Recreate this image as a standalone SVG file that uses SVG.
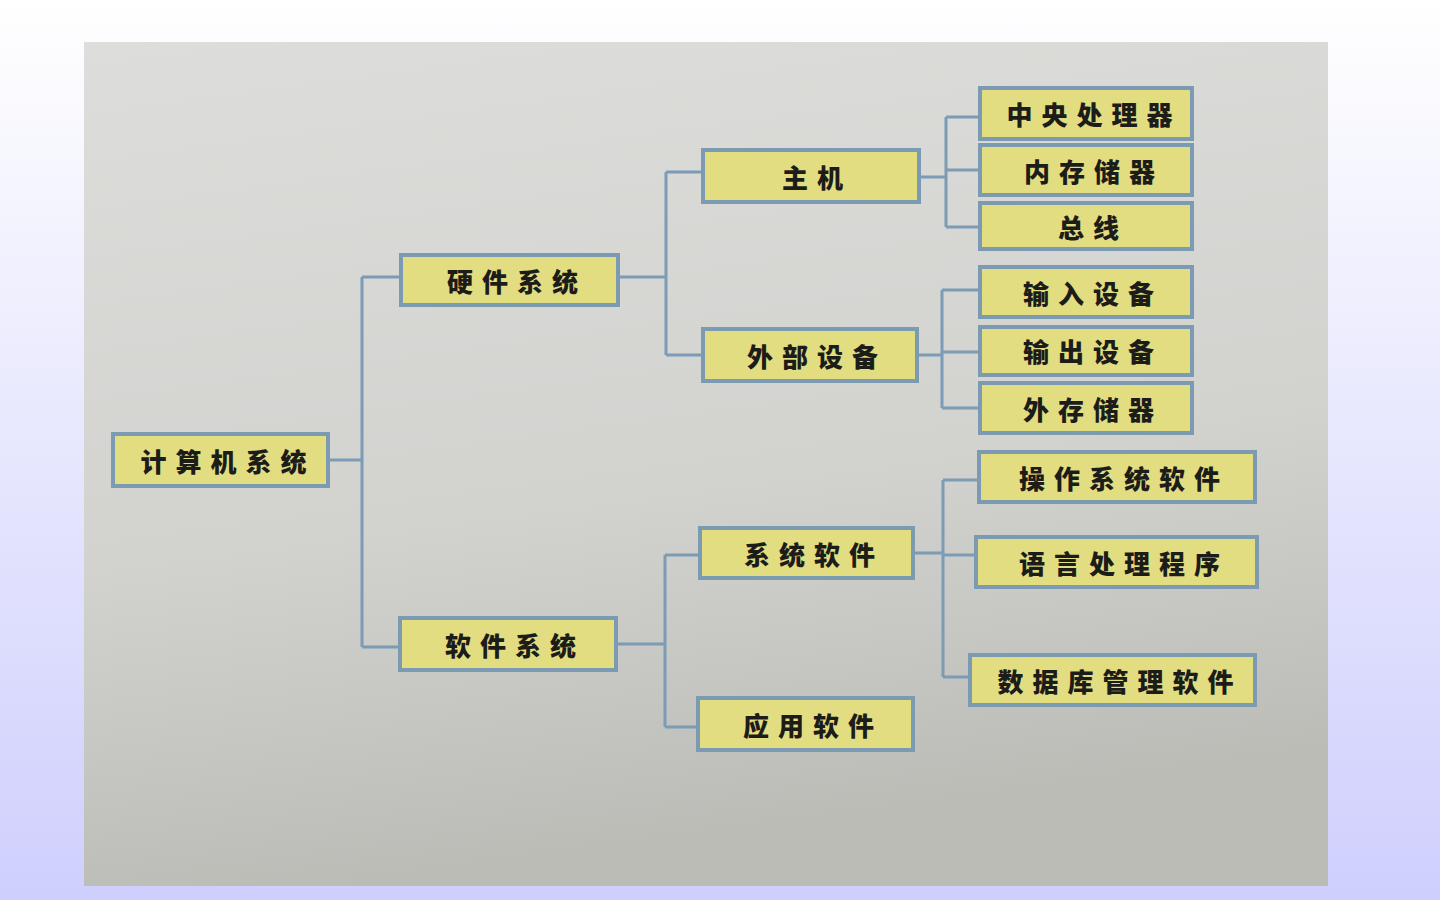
<svg xmlns="http://www.w3.org/2000/svg" width="1440" height="900" viewBox="0 0 1440 900">
  <defs>
    <linearGradient id="bg" x1="0" y1="0" x2="0" y2="1">
      <stop offset="0" stop-color="#ffffff"/>
      <stop offset="1" stop-color="#cfcffd"/>
    </linearGradient>
    <linearGradient id="photo" x1="0" y1="0" x2="0.2" y2="1">
      <stop offset="0" stop-color="#dddddb"/>
      <stop offset="0.6" stop-color="#d2d2cf"/>
      <stop offset="1" stop-color="#bcbcb7"/>
    </linearGradient>
  </defs>
  <style>
    .box { fill: #e3dd82; stroke: #7c9bb2; stroke-width: 4; }
    .lbl { font-family: "Noto Sans CJK SC", "Noto Sans", sans-serif; font-weight: 900; font-size: 26px; letter-spacing: 9px; fill: #1c1c18; text-anchor: middle; dominant-baseline: central; }
    .conn { fill: none; stroke: #7b9cb6; stroke-width: 3; }
  </style>
  <rect width="1440" height="900" fill="url(#bg)"/>
  <rect x="84" y="42" width="1244" height="844" fill="url(#photo)"/>

  <g id="connectors">
    <path class="conn" d="M328 460 H362 M362 277 V647 M362 277 H401 M362 647 H400"/>
    <path class="conn" d="M618 277 H666 M666 172 V355 M666 172 H703 M666 355 H703"/>
    <path class="conn" d="M616 644 H665 M665 555 V727 M665 555 H700 M665 727 H698"/>
    <path class="conn" d="M919 177 H946 M946 117 V227 M946 117 H980 M946 170 H980 M946 227 H980"/>
    <path class="conn" d="M917 355 H942 M942 290 V408 M942 290 H980 M942 352 H980 M942 408 H980"/>
    <path class="conn" d="M913 553 H943 M943 480 V677 M943 480 H979 M943 555 H976 M943 677 H970"/>
  </g>

  <g id="n-root"><rect class="box" x="113" y="434" width="215" height="52"/><text class="lbl" x="228" y="460">计算机系统</text></g>
  <g id="n-hw"><rect class="box" x="401" y="255" width="217" height="50"/><text class="lbl" x="517" y="280">硬件系统</text></g>
  <g id="n-sw"><rect class="box" x="400" y="618" width="216" height="52"/><text class="lbl" x="515" y="644">软件系统</text></g>
  <g id="n-host"><rect class="box" x="703" y="150" width="216" height="52"/><text class="lbl" x="817" y="176">主机</text></g>
  <g id="n-ext"><rect class="box" x="703" y="329" width="214" height="52"/><text class="lbl" x="817" y="355">外部设备</text></g>
  <g id="n-syssw"><rect class="box" x="700" y="528" width="213" height="50"/><text class="lbl" x="814" y="553">系统软件</text></g>
  <g id="n-appsw"><rect class="box" x="698" y="698" width="215" height="52"/><text class="lbl" x="813" y="724">应用软件</text></g>
  <g id="n-cpu"><rect class="box" x="980" y="88" width="212" height="51"/><text class="lbl" x="1094" y="113">中央处理器</text></g>
  <g id="n-mem"><rect class="box" x="980" y="145" width="212" height="50"/><text class="lbl" x="1094" y="170">内存储器</text></g>
  <g id="n-bus"><rect class="box" x="980" y="203" width="212" height="46"/><text class="lbl" x="1093" y="226">总线</text></g>
  <g id="n-in"><rect class="box" x="980" y="267" width="212" height="50"/><text class="lbl" x="1093" y="292">输入设备</text></g>
  <g id="n-out"><rect class="box" x="980" y="327" width="212" height="48"/><text class="lbl" x="1093" y="350">输出设备</text></g>
  <g id="n-stor"><rect class="box" x="980" y="383" width="212" height="50"/><text class="lbl" x="1093" y="408">外存储器</text></g>
  <g id="n-os"><rect class="box" x="979" y="452" width="276" height="50"/><text class="lbl" x="1124" y="477">操作系统软件</text></g>
  <g id="n-lang"><rect class="box" x="976" y="537" width="281" height="50"/><text class="lbl" x="1124" y="562">语言处理程序</text></g>
  <g id="n-db"><rect class="box" x="970" y="655" width="285" height="50"/><text class="lbl" x="1120" y="680">数据库管理软件</text></g>
</svg>
